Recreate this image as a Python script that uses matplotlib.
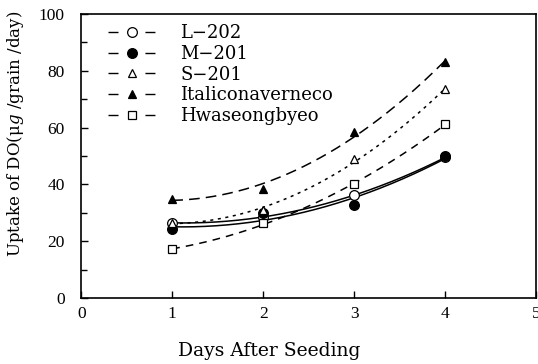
import numpy as np
import matplotlib.pyplot as plt
from matplotlib.lines import Line2D

plt.rcParams['font.family'] = ['DejaVu Serif']
plt.rcParams['mathtext.fontset'] = 'dejavuserif'

days = np.array([1, 2, 3, 4])
names = ['L\u2212202', 'M\u2212201', 'S\u2212201', 'Italiconaverneco', 'Hwaseongbyeo']
l202 = [26.5, 28.5, 36.3, 49.5]
m201 = [24.2, 30.0, 32.7, 50.0]
s201 = [26.5, 31.0, 48.8, 73.5]
italicon = [35.0, 38.5, 58.6, 83.0]
hwaseong = [17.2, 26.3, 40.0, 61.2]
series = [l202, m201, s201, italicon, hwaseong]

# marker, filled, line style of the fitted curve
markers = ['o', 'o', '^', '^', 's']
faces = ['white', 'black', 'white', 'black', 'white']
sizes = [7, 7, 6, 6, 5.5]
curve_styles = ['-', '-', (0, (2, 3)), (0, (7, 4)), (0, (5, 4))]

fig = plt.figure(figsize=(5.38, 3.64), dpi=100)
ax = fig.add_axes([0.151, 0.181, 0.846, 0.781])

xs = np.linspace(1, 4, 200)
for vals, ls in zip(series, curve_styles):
    coef = np.polyfit(days, vals, 2)
    ax.plot(xs, np.polyval(coef, xs), color='black', lw=1.1, linestyle=ls, zorder=2)

for vals, m, fc, ms in zip(series, markers, faces, sizes):
    ax.plot(days, vals, linestyle='none', marker=m, markerfacecolor=fc,
            markeredgecolor='black', markeredgewidth=0.9, markersize=ms, zorder=3)

# legend handles: short dash, marker, short dash
handles = [Line2D([0], [0], color='black', lw=1.0, linestyle=(0, (7.2, 19.4)),
                  marker=m, markerfacecolor=fc, markeredgecolor='black',
                  markeredgewidth=0.9, markersize=ms)
           for m, fc, ms in zip(markers, faces, sizes)]
ax.legend(handles, names, loc='upper left', bbox_to_anchor=(0.059, 0.963),
          frameon=False, fontsize=13, handlelength=2.6, handletextpad=1.39,
          labelspacing=0.15, borderaxespad=0, borderpad=0, numpoints=1)

ax.set_xlim(0, 5)
ax.set_ylim(0, 100)
ax.set_xticks([0, 1, 2, 3, 4, 5])
ax.set_yticks([0, 20, 40, 60, 80, 100])
ax.set_yticks([10, 30, 50, 70, 90], minor=True)
ax.tick_params(which='both', direction='in', labelsize=12.5, width=1)
ax.tick_params(which='major', length=5)
ax.tick_params(which='minor', length=4)
ax.tick_params(axis='x', pad=6)
ax.tick_params(axis='y', pad=12)
for lab in ax.get_xticklabels() + ax.get_yticklabels():
    lab.set_fontfamily('Liberation Serif')
for s in ax.spines.values():
    s.set_linewidth(1.2)

ax.set_xlabel('Days After Seeding', fontsize=13.5)
ax.xaxis.set_label_coords(0.414, -0.155)
ax.set_ylabel('Uptake of DO(\u03bc$g$ /grain /day)', fontsize=12)
ax.yaxis.set_label_coords(-0.122, 0.576)

fig.savefig('out.png', dpi=100)
